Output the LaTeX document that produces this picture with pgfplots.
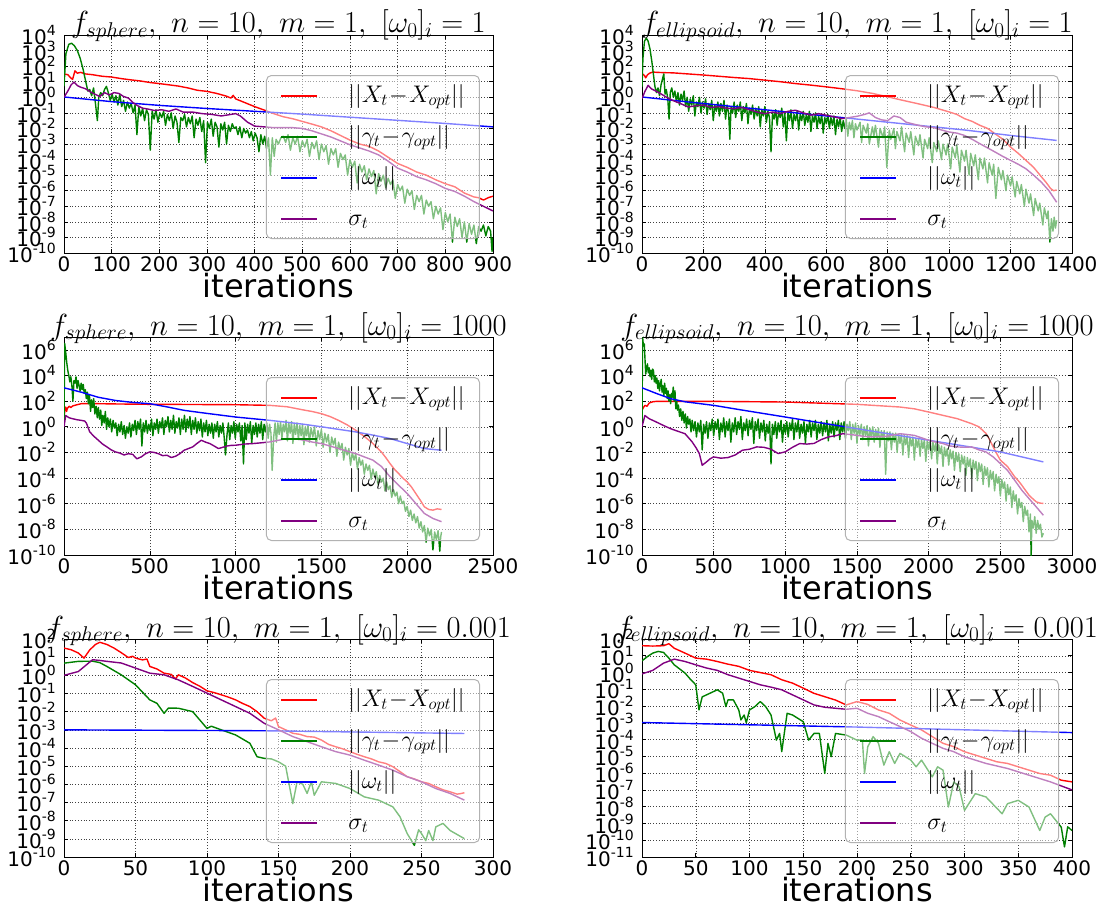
\RequirePackage{fix-cm}
\documentclass[border=0pt]{standalone}
\usepackage[no-math]{fontspec}
\setmainfont{DejaVu Sans}
\usepackage{pgfplots}
\pgfplotsset{compat=1.18}
\definecolor{colR}{RGB}{255,0,0}
\definecolor{colG}{RGB}{0,128,0}
\definecolor{colB}{RGB}{0,0,255}
\definecolor{colP}{RGB}{128,0,128}
\newcommand{\E}[1]{10\raisebox{9pt}{\fontsize{14}{14}\selectfont #1}}
\newcommand{\plotlog}[2]{\addplot[#1, forget plot] table[row sep=\\, header=false, y expr={10^(\thisrowno{1})}] {#2};}
\newcommand{\sample}[1]{\textcolor{#1}{\rule[5.25pt]{36pt}{1.5pt}}\hspace{31pt}}
\pgfplotsset{
  scale only axis, height=218pt,
  axis line style={black, line width=0.8pt},
  grid=major, grid style={black!75, line width=0.5pt, dash pattern=on 0.8pt off 2pt},
  tick align=inside, major tick length=4pt, yminorticks=false, xminorticks=false,
  tick style={black, line width=0.6pt},
  xticklabel style={font=\fontsize{20}{20}\selectfont, inner sep=0pt, yshift=-3pt},
  yticklabel style={font=\fontsize{20}{20}\selectfont, inner sep=0pt, xshift=-8pt},
  /pgf/number format/assume math mode=true, /pgf/number format/1000 sep={},
  xlabel={iterations},
  every axis x label/.style={at={(axis description cs:0.5,0)}, anchor=base, yshift=-44pt, font=\fontsize{32}{32}\selectfont},
  every axis title/.style={at={(axis description cs:0.5,1)}, anchor=base, yshift=2pt, font=\fontsize{30.5}{30.5}\selectfont},
  legend style={at={(axis description cs:1,0)}, anchor=south east, xshift=-13pt, yshift=14pt,
    draw=black!30, line width=1pt, rounded corners=5pt, fill=white, fill opacity=0.5, draw opacity=1, text opacity=1,
    font=\fontsize{24}{24}\selectfont, inner xsep=15pt, inner ysep=7pt, row sep=15pt, column sep=0pt,
    nodes={inner sep=0pt, text height=19.5pt, text depth=6.5pt}},
  legend cell align=left,
  legend image code/.code={},
  every axis plot/.append style={line width=1.4pt, line join=round},
}
\pgfplotsset{
  ytop/.style={ymin=1e-10, ymax=1e4,
    ytick={1e-10,1e-9,1e-8,1e-7,1e-6,1e-5,1e-4,1e-3,1e-2,1e-1,1e0,1e1,1e2,1e3,1e4},
    yticklabels={\E{-10},\E{-9},\E{-8},\E{-7},\E{-6},\E{-5},\E{-4},\E{-3},\E{-2},\E{-1},\E{0},\E{1},\E{2},\E{3},\E{4}}},
  ymid/.style={ymin=1e-10, ymax=1e7,
    ytick={1e-10,1e-8,1e-6,1e-4,1e-2,1e0,1e2,1e4,1e6},
    yticklabels={\E{-10},\E{-8},\E{-6},\E{-4},\E{-2},\E{0},\E{2},\E{4},\E{6}}},
}
\newcommand{\leg}{%
  \addlegendimage{}\addlegendentry{\sample{colR}$||X_t\!-\!X_{opt}||$}
  \addlegendimage{}\addlegendentry{\sample{colG}$||\gamma_t\!-\!\gamma_{opt}||$}
  \addlegendimage{}\addlegendentry{\sample{colB}$||\omega_t||$}
  \addlegendimage{}\addlegendentry{\sample{colP}$\sigma_t$}}
\begin{document}
\begin{tikzpicture}
\useasboundingbox (0,0) rectangle (1113pt,-907pt);
% ---------------- panel 1
\begin{semilogyaxis}[ytop, at={(64pt,-253pt)}, anchor=south west, width=429pt,
  xmin=0, xmax=900, xtick={0,100,...,900},
  title={$f_{sphere},\ n=10,\ m=1,\ [\omega_0]_i=1$}]
\plotlog{color=colR}{0 1.5\\ 8 1.45\\ 14 1.25\\ 18 1.15\\ 23 1.7\\ 28 1.55\\ 35 1.6\\ 45 1.5\\ 60 1.45\\ 80 1.35\\ 100 1.3\\ 120 1.2\\ 140 1.12\\ 160 1.05\\ 180 0.95\\ 200 0.88\\ 220 0.8\\ 240 0.72\\ 260 0.6\\ 280 0.45\\ 300 0.38\\ 320 0.25\\ 340 0.08\\ 350 -0.05\\ 355 0.12\\ 360 -0.1\\ 380 -0.35\\ 400 -0.6\\ 420 -0.82\\ 440 -1.05\\ 460 -1.25\\ 480 -1.38\\ 500 -1.55\\ 520 -1.72\\ 540 -1.9\\ 560 -2.15\\ 580 -2.45\\ 600 -2.75\\ 620 -3.0\\ 640 -3.15\\ 660 -3.45\\ 680 -3.85\\ 700 -4.25\\ 720 -4.5\\ 740 -4.8\\ 760 -5.0\\ 780 -5.3\\ 800 -5.55\\ 820 -5.75\\ 840 -6.15\\ 860 -6.4\\ 870 -6.45\\ 880 -6.6\\ 890 -6.45\\ 900 -6.35\\}
\plotlog{color=colG}{0 0.7\\ 4 2.8\\ 10 3.4\\ 16 3.47\\ 22 3.3\\ 28 3.0\\ 34 2.5\\ 40 1.8\\ 45 1.1\\ 50 0.4\\ 54 0.5\\ 58 0.1\\ 62 0.6\\ 66 -0.4\\ 70 -1.5\\ 73 0.0\\ 77 0.3\\ 81 0.1\\ 85 0.5\\ 89 0.7\\ 93 0.3\\ 97 -0.2\\ 101 0.2\\ 105 -0.3\\ 109 0.1\\ 113 -0.5\\ 117 0.2\\ 121 -0.6\\ 125 -0.2\\ 129 -0.9\\ 133 -0.3\\ 137 -0.7\\ 141 -0.4\\ 145 -1.0\\ 149 -0.5\\ 153 -2.4\\ 157 -0.6\\ 161 -1.2\\ 165 -0.7\\ 169 -1.5\\ 173 -0.8\\ 177 -1.1\\ 181 -3.4\\ 185 -0.9\\ 189 -1.4\\ 193 -0.8\\ 197 -1.6\\ 201 -1.0\\ 205 -1.3\\ 209 -0.9\\ 213 -1.8\\ 217 -1.1\\ 221 -1.5\\ 225 -1.0\\ 229 -2.0\\ 233 -1.2\\ 237 -1.6\\ 241 -2.9\\ 245 -1.3\\ 249 -1.5\\ 253 -1.1\\ 257 -1.9\\ 261 -1.3\\ 265 -1.7\\ 269 -1.2\\ 273 -2.6\\ 277 -1.4\\ 281 -1.8\\ 285 -1.3\\ 289 -2.2\\ 293 -1.5\\ 297 -4.2\\ 301 -1.6\\ 305 -2.0\\ 309 -1.4\\ 313 -2.5\\ 317 -1.6\\ 321 -1.9\\ 325 -3.2\\ 329 -1.7\\ 333 -2.1\\ 337 -1.6\\ 341 -3.0\\ 345 -1.8\\ 349 -2.2\\ 353 -1.7\\ 357 -2.0\\ 361 -1.9\\ 365 -2.4\\ 369 -1.9\\ 373 -2.6\\ 377 -2.0\\ 381 -2.3\\ 385 -2.1\\ 389 -2.6\\ 393 -2.2\\ 397 -2.8\\ 401 -2.3\\ 405 -2.6\\ 409 -3.5\\ 413 -2.4\\ 417 -3.0\\ 421 -2.5\\ 425 -3.3\\ 429 -2.6\\ 433 -5.0\\ 437 -2.6\\ 441 -3.8\\ 445 -2.7\\ 450 -3.0\\ 455 -2.6\\ 460 -2.5\\ 465 -2.9\\ 470 -2.4\\ 475 -3.4\\ 480 -2.6\\ 485 -3.0\\ 490 -2.5\\ 495 -3.5\\ 500 -2.8\\ 505 -3.2\\ 510 -2.7\\ 515 -3.8\\ 520 -2.9\\ 525 -3.3\\ 530 -2.8\\ 535 -4.0\\ 540 -3.0\\ 545 -3.5\\ 550 -3.1\\ 555 -4.3\\ 560 -3.3\\ 565 -3.7\\ 570 -3.3\\ 575 -4.5\\ 580 -3.6\\ 585 -4.0\\ 590 -3.7\\ 595 -5.0\\ 600 -4.0\\ 605 -4.5\\ 610 -4.1\\ 615 -5.5\\ 620 -4.3\\ 625 -4.8\\ 630 -4.4\\ 635 -5.3\\ 640 -4.6\\ 645 -5.1\\ 650 -4.7\\ 655 -6.2\\ 660 -4.9\\ 665 -5.4\\ 670 -5.0\\ 675 -5.8\\ 680 -5.2\\ 685 -5.6\\ 690 -5.3\\ 695 -6.5\\ 700 -5.6\\ 705 -6.0\\ 710 -5.7\\ 715 -6.8\\ 720 -5.9\\ 725 -6.3\\ 730 -6.0\\ 735 -7.2\\ 740 -6.3\\ 745 -6.7\\ 750 -6.3\\ 755 -7.5\\ 760 -6.6\\ 765 -7.0\\ 770 -6.7\\ 775 -7.8\\ 780 -7.0\\ 785 -7.5\\ 790 -7.1\\ 795 -8.5\\ 800 -7.4\\ 805 -8.0\\ 810 -7.5\\ 815 -9.3\\ 820 -7.7\\ 825 -8.3\\ 830 -7.8\\ 835 -9.0\\ 840 -8.0\\ 845 -9.3\\ 850 -8.1\\ 855 -8.8\\ 860 -8.2\\ 865 -9.4\\ 870 -8.3\\ 875 -8.6\\ 880 -8.2\\ 885 -8.9\\ 890 -8.3\\ 895 -8.6\\ 898 -9.9\\ 900 -9.0\\}
\plotlog{color=colB}{0 0.02\\ 100 -0.28\\ 200 -0.52\\ 300 -0.72\\ 400 -0.9\\ 500 -1.08\\ 600 -1.28\\ 700 -1.48\\ 800 -1.68\\ 900 -1.9\\}
\plotlog{color=colP}{0 0\\ 8 0.4\\ 15 0.8\\ 21 0.98\\ 28 0.75\\ 35 0.65\\ 45 0.55\\ 55 0.35\\ 65 0.2\\ 75 0.05\\ 85 0.3\\ 95 0.15\\ 105 0.3\\ 115 0.25\\ 125 0.05\\ 135 -0.05\\ 145 -0.35\\ 155 -0.55\\ 165 -0.7\\ 175 -0.75\\ 190 -0.85\\ 205 -0.8\\ 220 -0.9\\ 235 -0.75\\ 250 -0.95\\ 270 -0.95\\ 290 -1.05\\ 310 -1.1\\ 330 -1.2\\ 350 -1.1\\ 360 -1.05\\ 370 -1.2\\ 385 -1.6\\ 400 -1.85\\ 420 -1.9\\ 440 -1.95\\ 460 -1.95\\ 480 -1.95\\ 500 -2.0\\ 520 -2.15\\ 540 -2.35\\ 560 -2.55\\ 580 -2.8\\ 600 -3.05\\ 620 -3.25\\ 640 -3.45\\ 660 -3.7\\ 680 -4.1\\ 700 -4.55\\ 720 -4.8\\ 740 -5.1\\ 760 -5.3\\ 780 -5.55\\ 800 -5.85\\ 820 -6.05\\ 840 -6.35\\ 860 -6.7\\ 880 -7.0\\ 900 -7.3\\}
\leg
\end{semilogyaxis}
% ---------------- panel 2
\begin{semilogyaxis}[ytop, at={(642pt,-253pt)}, anchor=south west, width=430pt,
  xmin=0, xmax=1400, xtick={0,200,...,1400},
  title={$f_{ellipsoid},\ n=10,\ m=1,\ [\omega_0]_i=1$}]
\plotlog{color=colR}{0 1.52\\ 8 1.4\\ 12 1.25\\ 18 1.45\\ 25 1.55\\ 35 1.62\\ 50 1.6\\ 75 1.58\\ 100 1.57\\ 150 1.5\\ 200 1.43\\ 250 1.35\\ 300 1.27\\ 350 1.2\\ 400 1.1\\ 450 1.0\\ 500 0.88\\ 550 0.78\\ 600 0.67\\ 650 0.55\\ 700 0.42\\ 750 0.25\\ 800 0.03\\ 850 -0.2\\ 900 -0.42\\ 950 -0.65\\ 1000 -0.94\\ 1025 -1.1\\ 1050 -1.37\\ 1075 -1.55\\ 1100 -1.8\\ 1125 -2.0\\ 1150 -2.35\\ 1175 -2.7\\ 1200 -3.2\\ 1225 -3.6\\ 1250 -4.05\\ 1275 -4.5\\ 1300 -5.1\\ 1315 -5.45\\ 1330 -5.85\\ 1340 -6.0\\ 1350 -5.95\\}
\plotlog{color=colG}{0 0.67\\ 3 2.5\\ 8 3.6\\ 14 3.8\\ 20 3.6\\ 26 3.1\\ 32 2.3\\ 37 1.5\\ 42 0.7\\ 47 0.3\\ 52 0.6\\ 57 0.1\\ 62 0.8\\ 67 1.2\\ 71 1.5\\ 75 0.2\\ 79 0.5\\ 84 -0.1\\ 88 -1.4\\ 92 0.3\\ 97 0.6\\ 102 0.0\\ 107 0.4\\ 112 -0.3\\ 117 0.3\\ 122 -0.5\\ 127 0.2\\ 132 -0.2\\ 137 0.4\\ 142 -0.6\\ 147 0.0\\ 152 -0.9\\ 157 -0.1\\ 162 -0.5\\ 167 0.1\\ 172 -1.2\\ 177 -0.3\\ 182 -0.6\\ 187 0.0\\ 192 -1.0\\ 197 -0.3\\ 202 -0.7\\ 207 -0.1\\ 212 -1.1\\ 217 -0.4\\ 222 -0.8\\ 227 -0.2\\ 232 -1.5\\ 237 -0.5\\ 242 -0.9\\ 247 -0.3\\ 252 -1.2\\ 257 -0.4\\ 262 -0.9\\ 267 -0.2\\ 272 -1.4\\ 277 -0.5\\ 282 -1.0\\ 286 -2.7\\ 290 -0.6\\ 295 -1.0\\ 300 -0.3\\ 305 -1.3\\ 310 -0.5\\ 315 -0.9\\ 320 -0.3\\ 325 -1.5\\ 330 -0.6\\ 335 -1.0\\ 340 -0.4\\ 345 -1.7\\ 350 -0.7\\ 355 -1.1\\ 360 -0.5\\ 365 -1.4\\ 370 -0.7\\ 375 -1.2\\ 380 -0.6\\ 385 -1.9\\ 390 -0.8\\ 395 -1.2\\ 400 -0.6\\ 405 -1.6\\ 410 -0.9\\ 415 -1.3\\ 420 -3.5\\ 425 -1.0\\ 430 -1.4\\ 435 -0.8\\ 440 -1.8\\ 445 -0.9\\ 450 -1.3\\ 455 -0.7\\ 460 -1.9\\ 465 -1.0\\ 470 -2.8\\ 475 -1.0\\ 480 -1.5\\ 485 -0.8\\ 490 -2.0\\ 495 -1.1\\ 500 -1.5\\ 505 -0.9\\ 510 -2.1\\ 515 -1.1\\ 520 -1.5\\ 525 -0.9\\ 530 -1.8\\ 535 -1.1\\ 540 -1.6\\ 545 -0.9\\ 550 -2.2\\ 555 -1.2\\ 560 -1.6\\ 565 -1.0\\ 570 -2.0\\ 575 -1.2\\ 580 -1.7\\ 585 -1.1\\ 590 -2.3\\ 595 -1.3\\ 600 -1.7\\ 605 -1.1\\ 610 -2.0\\ 615 -1.3\\ 620 -1.8\\ 625 -1.2\\ 630 -2.4\\ 635 -1.4\\ 640 -1.9\\ 645 -1.3\\ 650 -2.2\\ 655 -1.5\\ 660 -2.0\\ 665 -1.4\\ 670 -2.5\\ 675 -1.6\\ 680 -2.1\\ 685 -1.5\\ 690 -2.6\\ 695 -1.7\\ 700 -2.1\\ 710 -1.6\\ 715 -2.9\\ 720 -1.8\\ 730 -2.3\\ 735 -1.7\\ 740 -3.0\\ 750 -1.9\\ 755 -2.5\\ 760 -1.8\\ 770 -3.2\\ 775 -2.0\\ 785 -2.6\\ 790 -1.9\\ 797 -4.5\\ 805 -2.1\\ 810 -2.7\\ 820 -2.0\\ 825 -3.3\\ 830 -2.2\\ 840 -2.8\\ 845 -1.9\\ 855 -3.5\\ 860 -2.3\\ 870 -2.9\\ 875 -2.2\\ 885 -3.7\\ 890 -2.5\\ 900 -3.1\\ 905 -2.4\\ 915 -3.9\\ 920 -2.7\\ 930 -3.3\\ 935 -2.6\\ 945 -4.2\\ 950 -2.9\\ 960 -3.5\\ 965 -2.8\\ 975 -4.0\\ 980 -3.0\\ 990 -3.7\\ 995 -3.0\\ 1005 -4.6\\ 1010 -3.2\\ 1020 -3.9\\ 1025 -3.1\\ 1035 -4.8\\ 1040 -3.4\\ 1050 -4.1\\ 1055 -3.4\\ 1065 -5.0\\ 1070 -3.6\\ 1080 -4.4\\ 1085 -3.7\\ 1095 -5.3\\ 1100 -3.9\\ 1110 -4.6\\ 1115 -3.9\\ 1125 -5.5\\ 1130 -4.2\\ 1140 -5.0\\ 1145 -4.3\\ 1152 -6.5\\ 1160 -4.5\\ 1170 -5.3\\ 1175 -4.7\\ 1185 -6.0\\ 1190 -5.0\\ 1200 -5.7\\ 1205 -5.1\\ 1215 -6.4\\ 1220 -5.4\\ 1230 -6.2\\ 1235 -5.6\\ 1245 -7.0\\ 1250 -5.9\\ 1260 -6.8\\ 1265 -6.2\\ 1275 -7.6\\ 1280 -6.5\\ 1290 -7.3\\ 1295 -6.8\\ 1305 -8.2\\ 1310 -7.1\\ 1318 -7.8\\ 1322 -7.3\\ 1328 -9.3\\ 1333 -7.8\\ 1338 -8.6\\ 1342 -7.7\\ 1346 -8.4\\ 1350 -7.9\\}
\plotlog{color=colB}{0 0.02\\ 150 -0.3\\ 300 -0.6\\ 450 -0.9\\ 600 -1.2\\ 750 -1.5\\ 900 -1.8\\ 1050 -2.1\\ 1200 -2.45\\ 1350 -2.77\\}
\plotlog{color=colP}{0 -0.08\\ 10 0.4\\ 20 0.77\\ 30 0.55\\ 40 0.45\\ 50 0.35\\ 60 0.24\\ 80 0.0\\ 100 -0.2\\ 125 -0.4\\ 150 -0.62\\ 175 -0.55\\ 200 -0.5\\ 225 -0.65\\ 250 -0.6\\ 275 -0.7\\ 300 -0.73\\ 325 -0.65\\ 350 -0.8\\ 375 -0.95\\ 400 -1.05\\ 425 -0.95\\ 450 -1.05\\ 475 -0.9\\ 500 -0.83\\ 525 -1.0\\ 550 -1.15\\ 575 -1.05\\ 600 -1.15\\ 625 -1.25\\ 650 -1.37\\ 675 -1.3\\ 700 -1.22\\ 725 -1.1\\ 740 -1.0\\ 760 -1.3\\ 780 -1.45\\ 800 -1.5\\ 820 -1.2\\ 840 -1.3\\ 860 -1.6\\ 880 -1.7\\ 900 -1.8\\ 925 -1.9\\ 950 -1.95\\ 975 -2.1\\ 1000 -2.23\\ 1025 -2.3\\ 1050 -2.45\\ 1075 -2.7\\ 1100 -2.98\\ 1125 -3.25\\ 1150 -3.52\\ 1175 -3.8\\ 1200 -4.05\\ 1225 -4.3\\ 1250 -4.59\\ 1275 -5.0\\ 1300 -5.45\\ 1325 -6.0\\ 1350 -6.74\\}
\leg
\end{semilogyaxis}
% ---------------- panel 3
\begin{semilogyaxis}[ymid, at={(64pt,-555pt)}, anchor=south west, width=429pt,
  xmin=0, xmax=2500, xtick={0,500,...,2500},
  title={$f_{sphere},\ n=10,\ m=1,\ [\omega_0]_i=1000$}]
\plotlog{color=colR}{0 0.63\\ 5 1.3\\ 10 1.54\\ 15 1.2\\ 20 1.45\\ 30 1.6\\ 40 1.5\\ 50 1.62\\ 70 1.7\\ 100 1.8\\ 150 1.8\\ 200 1.8\\ 300 1.78\\ 500 1.75\\ 700 1.74\\ 1000 1.72\\ 1200 1.67\\ 1300 1.56\\ 1400 1.3\\ 1450 1.18\\ 1500 1.02\\ 1550 0.8\\ 1600 0.5\\ 1650 0.15\\ 1700 -0.27\\ 1750 -0.75\\ 1800 -1.3\\ 1850 -1.97\\ 1875 -2.4\\ 1900 -2.87\\ 1925 -3.3\\ 1950 -3.65\\ 1975 -4.0\\ 2000 -4.3\\ 2025 -4.7\\ 2050 -5.2\\ 2075 -5.7\\ 2100 -6.24\\ 2125 -6.45\\ 2150 -6.5\\ 2175 -6.4\\ 2200 -6.45\\}
\plotlog{color=colG}{0 0.0\\ 4 6.5\\ 10 5.8\\ 16 5.0\\ 22 4.4\\ 28 4.0\\ 34 3.5\\ 40 3.9\\ 46 3.2\\ 52 2.0\\ 58 3.6\\ 64 3.4\\ 70 3.9\\ 76 3.0\\ 82 3.6\\ 88 3.2\\ 94 2.8\\ 100 3.4\\ 106 2.9\\ 112 3.3\\ 118 2.6\\ 124 2.9\\ 130 2.2\\ 136 2.7\\ 142 1.8\\ 148 2.5\\ 155 1.2\\ 160 2.1\\ 167 1.5\\ 173 2.2\\ 180 1.0\\ 187 1.6\\ 194 0.7\\ 200 1.5\\ 207 0.6\\ 214 1.3\\ 220 0.1\\ 227 0.9\\ 234 0.3\\ 241 1.2\\ 248 -0.2\\ 255 0.7\\ 262 0.0\\ 270 0.6\\ 278 -0.4\\ 286 0.5\\ 294 -0.1\\ 302 0.3\\ 310 -0.7\\ 318 0.2\\ 326 -0.4\\ 334 0.4\\ 342 -0.6\\ 350 0.1\\ 358 -0.9\\ 366 0.0\\ 374 -0.5\\ 382 0.3\\ 390 -0.8\\ 398 0.2\\ 406 -0.3\\ 414 0.5\\ 422 -0.6\\ 430 0.4\\ 438 -0.2\\ 446 0.6\\ 454 -1.5\\ 462 0.3\\ 470 -0.4\\ 478 0.5\\ 486 -0.5\\ 494 0.2\\ 502 -0.3\\ 510 0.6\\ 518 -0.7\\ 526 0.3\\ 534 -0.2\\ 542 0.6\\ 550 -0.5\\ 558 0.4\\ 566 -0.1\\ 574 0.7\\ 582 -0.6\\ 590 0.5\\ 598 0.0\\ 606 0.8\\ 614 -0.4\\ 622 0.5\\ 630 -0.2\\ 638 0.9\\ 646 -0.5\\ 654 0.4\\ 662 -0.1\\ 670 0.7\\ 678 -0.6\\ 686 0.6\\ 694 -0.2\\ 702 0.9\\ 710 -0.4\\ 718 0.6\\ 726 -0.1\\ 734 0.8\\ 742 -0.6\\ 750 0.5\\ 758 -0.2\\ 766 0.7\\ 774 -0.5\\ 782 0.4\\ 790 -0.3\\ 798 0.6\\ 806 -0.8\\ 814 0.3\\ 822 -0.4\\ 830 0.5\\ 838 -0.7\\ 846 0.2\\ 854 -0.5\\ 862 0.3\\ 870 -0.9\\ 878 0.2\\ 886 -0.4\\ 894 0.4\\ 902 -0.8\\ 910 0.1\\ 918 -0.5\\ 926 0.3\\ 934 -0.9\\ 941 -2.2\\ 950 -0.6\\ 958 0.3\\ 966 -1.0\\ 974 0.1\\ 982 -0.5\\ 990 0.4\\ 998 -0.9\\ 1006 0.2\\ 1014 -0.4\\ 1022 0.3\\ 1030 -1.1\\ 1038 0.1\\ 1046 -2.9\\ 1054 0.3\\ 1062 -1.0\\ 1070 0.2\\ 1078 -0.5\\ 1086 0.4\\ 1094 -1.3\\ 1102 0.1\\ 1110 -0.6\\ 1118 0.3\\ 1126 -0.8\\ 1134 0.2\\ 1142 -0.5\\ 1150 0.4\\ 1158 -1.0\\ 1166 0.2\\ 1174 -0.4\\ 1182 0.3\\ 1190 -0.9\\ 1198 0.2\\ 1206 -0.5\\ 1213 -3.4\\ 1222 -0.8\\ 1230 0.3\\ 1238 -1.2\\ 1246 0.3\\ 1254 -0.6\\ 1262 0.4\\ 1270 -0.9\\ 1278 0.2\\ 1286 -0.4\\ 1294 0.5\\ 1302 -1.1\\ 1310 0.3\\ 1318 -0.5\\ 1326 0.4\\ 1334 -1.3\\ 1342 0.2\\ 1350 -0.6\\ 1358 0.3\\ 1366 -1.0\\ 1374 0.1\\ 1382 -0.7\\ 1390 0.2\\ 1398 -1.4\\ 1406 0.0\\ 1414 -0.7\\ 1422 0.1\\ 1430 -1.2\\ 1440 -0.1\\ 1450 -0.8\\ 1460 0.0\\ 1470 -1.5\\ 1480 -0.3\\ 1490 -1.0\\ 1500 -0.2\\ 1510 -1.6\\ 1520 -0.5\\ 1530 -1.2\\ 1540 -0.6\\ 1550 -2.0\\ 1560 -0.8\\ 1570 -1.4\\ 1580 -0.9\\ 1590 -2.3\\ 1600 -1.2\\ 1610 -1.8\\ 1620 -1.3\\ 1630 -2.6\\ 1640 -1.6\\ 1650 -2.2\\ 1660 -1.7\\ 1670 -3.0\\ 1680 -2.0\\ 1690 -2.6\\ 1700 -2.1\\ 1710 -3.3\\ 1720 -2.4\\ 1730 -3.0\\ 1740 -2.6\\ 1750 -3.7\\ 1760 -2.9\\ 1770 -3.4\\ 1780 -3.0\\ 1790 -4.1\\ 1800 -3.3\\ 1810 -3.9\\ 1820 -3.5\\ 1830 -4.5\\ 1840 -3.8\\ 1850 -4.3\\ 1860 -4.0\\ 1870 -5.0\\ 1880 -4.3\\ 1890 -4.9\\ 1900 -4.6\\ 1910 -5.5\\ 1920 -4.9\\ 1930 -5.4\\ 1940 -5.1\\ 1950 -6.0\\ 1960 -5.4\\ 1970 -6.0\\ 1980 -5.8\\ 1990 -6.6\\ 2000 -6.2\\ 2010 -7.0\\ 2020 -6.5\\ 2030 -7.3\\ 2040 -6.8\\ 2050 -7.5\\ 2060 -7.0\\ 2070 -7.9\\ 2080 -7.4\\ 2090 -8.2\\ 2100 -7.7\\ 2110 -9.0\\ 2120 -7.9\\ 2130 -8.5\\ 2140 -8.0\\ 2150 -9.6\\ 2160 -8.2\\ 2170 -8.8\\ 2180 -8.1\\ 2190 -9.7\\ 2195 -8.6\\ 2200 -8.2\\}
\plotlog{color=colB}{0 3.04\\ 100 2.7\\ 200 2.3\\ 300 2.05\\ 400 1.9\\ 500 1.8\\ 600 1.55\\ 700 1.28\\ 800 1.1\\ 900 0.93\\ 1000 0.76\\ 1100 0.63\\ 1200 0.5\\ 1300 0.35\\ 1400 0.19\\ 1500 0.0\\ 1600 -0.2\\ 1700 -0.4\\ 1800 -0.65\\ 1900 -0.92\\ 2000 -1.31\\ 2100 -1.7\\ 2200 -1.83\\}
\plotlog{color=colP}{0 0\\ 10 0.88\\ 30 0.7\\ 50 0.63\\ 75 0.55\\ 100 0.5\\ 120 0.45\\ 130 0.3\\ 150 -0.4\\ 175 -0.75\\ 200 -1.05\\ 225 -1.35\\ 250 -1.57\\ 275 -1.8\\ 300 -1.96\\ 325 -2.05\\ 350 -2.2\\ 375 -2.1\\ 400 -2.15\\ 425 -2.5\\ 450 -2.35\\ 475 -2.1\\ 500 -1.96\\ 525 -2.0\\ 550 -2.1\\ 575 -2.25\\ 600 -2.22\\ 625 -2.4\\ 650 -2.3\\ 675 -2.1\\ 700 -1.83\\ 725 -1.7\\ 750 -1.57\\ 775 -1.3\\ 800 -1.05\\ 825 -1.2\\ 850 -1.31\\ 875 -1.5\\ 900 -1.7\\ 925 -1.6\\ 950 -1.5\\ 975 -1.45\\ 1000 -1.44\\ 1050 -1.35\\ 1100 -1.31\\ 1150 -1.25\\ 1200 -1.18\\ 1250 -1.05\\ 1300 -0.92\\ 1350 -0.95\\ 1400 -1.05\\ 1450 -1.2\\ 1500 -1.31\\ 1550 -1.5\\ 1600 -1.7\\ 1650 -1.9\\ 1700 -2.09\\ 1750 -2.35\\ 1800 -2.6\\ 1850 -3.1\\ 1900 -3.9\\ 1950 -4.56\\ 2000 -5.2\\ 2050 -5.98\\ 2100 -6.76\\ 2150 -7.15\\ 2200 -7.4\\}
\leg
\end{semilogyaxis}
% ---------------- panel 4
\begin{semilogyaxis}[ymid, at={(642pt,-555pt)}, anchor=south west, width=430pt,
  xmin=0, xmax=3000, xtick={0,500,...,3000},
  title={$f_{ellipsoid},\ n=10,\ m=1,\ [\omega_0]_i=1000$}]
\plotlog{color=colR}{0 1.28\\ 10 1.5\\ 20 1.67\\ 35 1.6\\ 50 1.85\\ 75 1.95\\ 100 1.98\\ 200 1.98\\ 500 1.98\\ 1000 1.93\\ 1500 1.75\\ 1800 1.54\\ 1900 1.4\\ 2000 1.15\\ 2100 0.89\\ 2200 0.63\\ 2300 0.24\\ 2350 0.0\\ 2400 -0.52\\ 2425 -1.0\\ 2450 -1.57\\ 2475 -2.1\\ 2500 -2.6\\ 2525 -2.85\\ 2550 -3.1\\ 2575 -3.5\\ 2600 -3.9\\ 2625 -4.2\\ 2650 -4.56\\ 2675 -4.95\\ 2700 -5.33\\ 2725 -5.6\\ 2750 -5.85\\ 2775 -5.95\\ 2800 -5.98\\}
\plotlog{color=colG}{0 0.0\\ 4 7.0\\ 10 6.3\\ 16 6.46\\ 22 5.0\\ 26 4.1\\ 32 4.6\\ 38 4.9\\ 44 4.2\\ 50 4.6\\ 56 3.9\\ 62 4.4\\ 68 3.7\\ 74 4.5\\ 80 4.38\\ 86 3.5\\ 92 4.0\\ 98 3.4\\ 104 3.8\\ 110 3.0\\ 116 3.6\\ 122 2.8\\ 128 3.3\\ 134 3.7\\ 140 2.7\\ 146 3.2\\ 152 2.4\\ 158 3.4\\ 164 2.6\\ 170 3.0\\ 176 2.2\\ 182 2.8\\ 188 2.0\\ 194 2.5\\ 200 1.8\\ 206 2.6\\ 212 2.3\\ 218 3.1\\ 224 2.0\\ 230 2.8\\ 236 1.4\\ 242 2.0\\ 248 1.3\\ 254 1.7\\ 262 0.8\\ 270 1.4\\ 278 0.5\\ 286 1.2\\ 294 0.3\\ 302 1.0\\ 310 -0.1\\ 318 0.8\\ 326 0.2\\ 334 0.6\\ 342 -0.4\\ 350 0.5\\ 360 -0.3\\ 370 0.4\\ 380 -0.8\\ 390 0.3\\ 400 -0.4\\ 410 0.5\\ 420 -1.8\\ 430 0.2\\ 440 -0.5\\ 450 0.4\\ 460 -0.9\\ 470 0.3\\ 480 -0.3\\ 490 0.6\\ 500 -0.7\\ 510 0.4\\ 520 -0.2\\ 530 0.6\\ 540 -1.0\\ 550 0.3\\ 560 -0.4\\ 570 0.7\\ 580 -0.8\\ 590 0.4\\ 600 -0.3\\ 610 0.6\\ 620 -1.2\\ 630 0.3\\ 640 -0.4\\ 650 0.7\\ 660 -0.6\\ 670 0.4\\ 680 -0.2\\ 690 0.8\\ 700 -1.0\\ 710 0.3\\ 720 -0.3\\ 730 0.6\\ 740 -0.7\\ 750 0.5\\ 760 -0.2\\ 770 0.7\\ 780 -1.3\\ 790 0.4\\ 800 -0.3\\ 810 0.6\\ 820 -0.9\\ 830 0.3\\ 840 -0.4\\ 850 0.5\\ 860 -1.1\\ 870 0.2\\ 880 -0.5\\ 890 0.4\\ 900 -2.9\\ 910 0.2\\ 920 -0.6\\ 930 0.4\\ 940 -0.9\\ 950 0.3\\ 960 -0.4\\ 970 0.5\\ 980 -1.2\\ 990 0.2\\ 1000 -0.5\\ 1010 0.4\\ 1020 -0.8\\ 1030 0.3\\ 1040 -0.3\\ 1050 0.6\\ 1060 -1.0\\ 1070 0.3\\ 1080 -0.4\\ 1090 0.5\\ 1100 -0.9\\ 1110 0.2\\ 1120 -0.5\\ 1130 0.4\\ 1140 -1.3\\ 1150 0.2\\ 1160 -0.4\\ 1170 0.5\\ 1180 -0.8\\ 1190 0.3\\ 1200 -0.3\\ 1210 0.5\\ 1220 -1.0\\ 1230 0.2\\ 1240 -0.5\\ 1250 0.4\\ 1260 -0.7\\ 1270 0.3\\ 1280 -0.4\\ 1290 0.5\\ 1300 -1.1\\ 1310 0.2\\ 1320 -0.5\\ 1330 0.4\\ 1340 -0.8\\ 1350 0.3\\ 1360 -0.3\\ 1370 0.5\\ 1380 -1.0\\ 1390 0.3\\ 1400 -0.4\\ 1410 0.4\\ 1420 -0.9\\ 1430 0.2\\ 1440 -0.3\\ 1450 0.4\\ 1460 -1.0\\ 1470 0.2\\ 1480 -0.5\\ 1490 0.3\\ 1500 -1.3\\ 1510 0.1\\ 1520 -0.6\\ 1530 0.2\\ 1540 -1.0\\ 1550 0.0\\ 1560 -0.7\\ 1570 0.1\\ 1580 -1.5\\ 1590 -0.1\\ 1600 -0.8\\ 1610 0.0\\ 1620 -1.2\\ 1630 -0.2\\ 1640 -0.9\\ 1650 -0.1\\ 1660 -1.6\\ 1670 -0.3\\ 1680 -1.0\\ 1690 -0.3\\ 1700 -3.7\\ 1710 -0.4\\ 1720 -1.1\\ 1730 -0.4\\ 1740 -1.8\\ 1750 -0.5\\ 1760 -1.2\\ 1770 -0.5\\ 1780 -2.0\\ 1790 -0.6\\ 1800 -1.3\\ 1810 -0.6\\ 1820 -2.2\\ 1830 -0.7\\ 1840 -1.4\\ 1850 -0.7\\ 1860 -2.4\\ 1870 -0.8\\ 1880 -1.5\\ 1890 -0.8\\ 1900 -2.6\\ 1910 -0.9\\ 1920 -1.6\\ 1930 -0.9\\ 1940 -2.3\\ 1950 -1.0\\ 1960 -1.7\\ 1970 -1.0\\ 1980 -2.7\\ 1990 -1.1\\ 2000 -1.8\\ 2010 -1.1\\ 2020 -2.5\\ 2030 -1.2\\ 2040 -1.9\\ 2050 -1.3\\ 2060 -2.9\\ 2070 -1.4\\ 2080 -2.1\\ 2090 -1.5\\ 2100 -3.1\\ 2110 -1.6\\ 2120 -2.3\\ 2130 -1.7\\ 2140 -3.0\\ 2150 -1.8\\ 2160 -2.5\\ 2170 -1.9\\ 2180 -3.4\\ 2190 -2.0\\ 2200 -2.7\\ 2210 -2.1\\ 2220 -3.5\\ 2230 -2.2\\ 2240 -2.9\\ 2250 -2.3\\ 2260 -3.8\\ 2270 -2.4\\ 2280 -3.1\\ 2290 -2.5\\ 2300 -4.0\\ 2310 -2.6\\ 2320 -3.3\\ 2330 -2.7\\ 2340 -4.2\\ 2350 -2.8\\ 2360 -3.5\\ 2370 -2.9\\ 2380 -4.5\\ 2390 -3.1\\ 2400 -3.8\\ 2410 -3.2\\ 2420 -4.7\\ 2430 -3.4\\ 2440 -4.1\\ 2450 -3.5\\ 2460 -5.0\\ 2470 -3.7\\ 2480 -4.4\\ 2490 -3.9\\ 2500 -5.4\\ 2510 -4.1\\ 2520 -4.8\\ 2530 -4.3\\ 2540 -5.8\\ 2550 -4.5\\ 2560 -5.3\\ 2570 -4.7\\ 2580 -6.3\\ 2590 -5.0\\ 2600 -5.8\\ 2610 -5.3\\ 2620 -6.8\\ 2630 -5.6\\ 2640 -6.3\\ 2650 -5.9\\ 2660 -7.4\\ 2670 -6.2\\ 2680 -6.9\\ 2690 -6.5\\ 2700 -8.2\\ 2710 -6.8\\ 2715 -10.2\\ 2720 -7.3\\ 2730 -7.9\\ 2740 -7.0\\ 2750 -8.3\\ 2760 -7.3\\ 2770 -8.0\\ 2780 -7.6\\ 2790 -8.6\\ 2800 -8.3\\}
\plotlog{color=colB}{0 3.04\\ 100 2.6\\ 200 2.19\\ 300 1.95\\ 500 1.67\\ 700 1.3\\ 1000 0.76\\ 1250 0.3\\ 1500 -0.15\\ 1750 -0.6\\ 2000 -1.05\\ 2250 -1.5\\ 2500 -1.96\\ 2800 -2.74\\}
\plotlog{color=colP}{0 0\\ 20 0.88\\ 50 0.63\\ 100 0.37\\ 150 0.1\\ 200 -0.15\\ 250 -0.35\\ 300 -0.54\\ 350 -1.18\\ 375 -1.6\\ 400 -2.09\\ 420 -3.0\\ 450 -2.74\\ 475 -2.5\\ 500 -2.35\\ 550 -2.45\\ 600 -2.4\\ 650 -2.2\\ 700 -1.83\\ 750 -1.75\\ 800 -1.57\\ 850 -1.6\\ 900 -1.75\\ 950 -2.09\\ 1000 -1.95\\ 1050 -1.6\\ 1100 -1.31\\ 1150 -1.35\\ 1200 -1.3\\ 1250 -1.0\\ 1300 -0.79\\ 1350 -0.7\\ 1400 -0.54\\ 1450 -0.6\\ 1500 -0.67\\ 1550 -0.75\\ 1600 -0.79\\ 1700 -0.75\\ 1800 -0.54\\ 1900 -0.67\\ 2000 -1.05\\ 2050 -1.2\\ 2100 -1.31\\ 2150 -1.5\\ 2200 -1.57\\ 2250 -1.6\\ 2300 -1.57\\ 2350 -1.8\\ 2400 -1.96\\ 2450 -2.35\\ 2500 -2.87\\ 2550 -3.4\\ 2600 -4.17\\ 2650 -4.95\\ 2700 -5.6\\ 2750 -6.24\\ 2800 -6.9\\}
\leg
\end{semilogyaxis}
% ---------------- panel 5
\begin{semilogyaxis}[at={(64pt,-857pt)}, anchor=south west, width=429pt,
  xmin=0, xmax=300, xtick={0,50,...,300}, ymin=1e-10, ymax=1e2,
  ytick={1e-10,1e-9,1e-8,1e-7,1e-6,1e-5,1e-4,1e-3,1e-2,1e-1,1e0,1e1,1e2},
  yticklabels={\E{-10},\E{-9},\E{-8},\E{-7},\E{-6},\E{-5},\E{-4},\E{-3},\E{-2},\E{-1},\E{0},\E{1},\E{2}},
  title={$f_{sphere},\ n=10,\ m=1,\ [\omega_0]_i=0.001$}]
\plotlog{color=colR}{0 1.5\\ 5 1.41\\ 10 1.23\\ 14 0.95\\ 18 1.4\\ 22 1.7\\ 25 1.82\\ 30 1.7\\ 35 1.5\\ 40 1.25\\ 45 0.98\\ 48 1.05\\ 50 0.95\\ 55 0.85\\ 58 0.9\\ 60 0.49\\ 65 0.35\\ 70 0.12\\ 75 0.05\\ 78 -0.2\\ 80 0.03\\ 85 -0.15\\ 90 -0.4\\ 95 -0.6\\ 100 -0.85\\ 105 -0.95\\ 110 -1.07\\ 115 -1.2\\ 120 -1.35\\ 125 -1.55\\ 130 -1.72\\ 135 -2.0\\ 140 -2.36\\ 145 -2.5\\ 148 -2.35\\ 150 -2.82\\ 155 -3.0\\ 160 -3.19\\ 165 -3.25\\ 170 -3.37\\ 175 -3.4\\ 180 -3.56\\ 185 -3.8\\ 190 -3.93\\ 195 -4.05\\ 200 -4.2\\ 205 -4.35\\ 210 -4.48\\ 215 -4.6\\ 220 -4.76\\ 225 -4.85\\ 230 -5.03\\ 235 -5.3\\ 240 -5.58\\ 245 -5.7\\ 250 -5.86\\ 255 -5.95\\ 260 -6.13\\ 265 -6.3\\ 270 -6.41\\ 275 -6.54\\ 278 -6.5\\ 280 -6.46\\}
\plotlog{color=colG}{0 0.67\\ 10 0.77\\ 20 0.78\\ 25 0.7\\ 30 0.49\\ 40 0.03\\ 50 -0.52\\ 60 -1.35\\ 65 -1.54\\ 70 -2.09\\ 73 -1.8\\ 80 -1.81\\ 90 -2.0\\ 100 -2.92\\ 103 -2.8\\ 110 -3.0\\ 120 -3.28\\ 130 -3.74\\ 135 -4.48\\ 140 -4.57\\ 145 -4.6\\ 150 -4.76\\ 155 -5.0\\ 160 -7.06\\ 163 -5.85\\ 167 -6.0\\ 170 -6.5\\ 173 -5.85\\ 175 -6.6\\ 180 -5.86\\ 190 -5.95\\ 200 -6.23\\ 210 -6.69\\ 220 -6.87\\ 230 -7.24\\ 235 -7.79\\ 240 -8.71\\ 245 -9.36\\ 248 -8.5\\ 250 -8.71\\ 253 -9.1\\ 255 -8.54\\ 258 -9.1\\ 260 -8.34\\ 265 -8.15\\ 270 -8.54\\ 280 -8.99\\}
\plotlog{color=colB}{0 -3.0\\ 140 -3.05\\ 280 -3.2\\}
\plotlog{color=colP}{0 0\\ 10 0.21\\ 20 0.86\\ 25 0.82\\ 30 0.77\\ 40 0.68\\ 50 0.4\\ 60 0.12\\ 70 0.03\\ 80 -0.25\\ 90 -0.61\\ 100 -0.98\\ 110 -1.35\\ 120 -1.72\\ 130 -2.09\\ 140 -2.64\\ 150 -3.0\\ 160 -3.37\\ 170 -3.65\\ 180 -3.93\\ 190 -4.2\\ 200 -4.39\\ 210 -4.67\\ 220 -4.94\\ 230 -5.22\\ 240 -5.58\\ 250 -5.86\\ 260 -6.23\\ 270 -6.5\\ 280 -6.87\\}
\leg
\end{semilogyaxis}
% ---------------- panel 6
\begin{semilogyaxis}[at={(642pt,-857pt)}, anchor=south west, width=430pt,
  xmin=0, xmax=400, xtick={0,50,...,400}, ymin=1e-11, ymax=1e2,
  ytick={1e-11,1e-10,1e-9,1e-8,1e-7,1e-6,1e-5,1e-4,1e-3,1e-2,1e-1,1e0,1e1,1e2},
  yticklabels={\E{-11},\E{-10},\E{-9},\E{-8},\E{-7},\E{-6},\E{-5},\E{-4},\E{-3},\E{-2},\E{-1},\E{0},\E{1},\E{2}},
  title={$f_{ellipsoid},\ n=10,\ m=1,\ [\omega_0]_i=0.001$}]
\plotlog{color=colR}{0 1.6\\ 10 1.58\\ 20 1.6\\ 25 1.72\\ 30 1.45\\ 40 1.16\\ 50 0.86\\ 60 0.8\\ 70 0.66\\ 80 0.5\\ 90 0.37\\ 100 0.13\\ 110 0.0\\ 120 -0.13\\ 130 -0.43\\ 140 -0.63\\ 150 -0.93\\ 160 -1.24\\ 170 -1.44\\ 180 -1.64\\ 190 -1.93\\ 200 -1.73\\ 210 -1.9\\ 220 -2.23\\ 230 -2.43\\ 240 -2.83\\ 250 -3.13\\ 260 -3.42\\ 270 -3.82\\ 280 -4.22\\ 290 -4.42\\ 300 -4.72\\ 310 -4.92\\ 320 -5.12\\ 330 -5.32\\ 340 -5.42\\ 350 -5.62\\ 360 -5.82\\ 370 -6.02\\ 380 -6.12\\ 390 -6.42\\ 400 -6.52\\}
\plotlog{color=colG}{0 0.7\\ 5 0.95\\ 10 1.16\\ 15 1.26\\ 20 1.2\\ 25 0.86\\ 30 0.46\\ 40 -0.03\\ 45 -0.4\\ 50 -0.73\\ 53 -2.23\\ 56 -1.45\\ 60 -1.33\\ 70 -1.03\\ 75 -1.23\\ 78 -2.03\\ 80 -1.63\\ 85 -1.63\\ 90 -2.23\\ 92 -2.83\\ 95 -2.53\\ 97 -3.0\\ 100 -2.23\\ 105 -2.03\\ 110 -1.73\\ 115 -2.03\\ 120 -2.53\\ 125 -4.03\\ 128 -3.63\\ 130 -4.72\\ 133 -3.33\\ 135 -2.43\\ 140 -2.53\\ 150 -2.93\\ 155 -4.03\\ 160 -3.63\\ 165 -3.63\\ 170 -6.02\\ 173 -4.22\\ 176 -5.02\\ 180 -3.63\\ 190 -3.73\\ 200 -4.03\\ 205 -4.03\\ 207 -6.02\\ 210 -4.42\\ 215 -3.82\\ 220 -4.22\\ 225 -5.52\\ 230 -4.72\\ 235 -5.42\\ 240 -4.82\\ 250 -5.22\\ 255 -5.62\\ 260 -5.22\\ 270 -6.22\\ 275 -5.62\\ 280 -5.82\\ 285 -8.02\\ 290 -6.52\\ 295 -6.82\\ 300 -8.22\\ 310 -7.22\\ 320 -7.42\\ 335 -8.42\\ 340 -7.82\\ 350 -7.62\\ 360 -8.02\\ 370 -9.42\\ 375 -8.62\\ 380 -8.42\\ 390 -9.22\\ 393 -10.4\\ 396 -9.2\\ 400 -9.42\\}
\plotlog{color=colB}{0 -2.98\\ 200 -3.25\\ 400 -3.58\\}
\plotlog{color=colP}{0 -0.08\\ 10 0.13\\ 20 0.56\\ 30 0.8\\ 40 0.66\\ 50 0.46\\ 60 0.27\\ 70 0.13\\ 80 -0.13\\ 90 -0.33\\ 100 -0.53\\ 110 -0.73\\ 120 -0.87\\ 130 -1.03\\ 140 -1.33\\ 150 -1.63\\ 160 -1.93\\ 170 -2.07\\ 180 -2.13\\ 190 -2.19\\ 200 -2.13\\ 210 -2.43\\ 220 -2.63\\ 230 -2.93\\ 240 -3.22\\ 250 -3.52\\ 260 -3.92\\ 270 -4.22\\ 280 -4.52\\ 290 -4.72\\ 300 -5.02\\ 320 -5.42\\ 340 -5.72\\ 360 -6.12\\ 380 -6.52\\ 400 -7.0\\}
\leg
\end{semilogyaxis}
\end{tikzpicture}
\end{document}
